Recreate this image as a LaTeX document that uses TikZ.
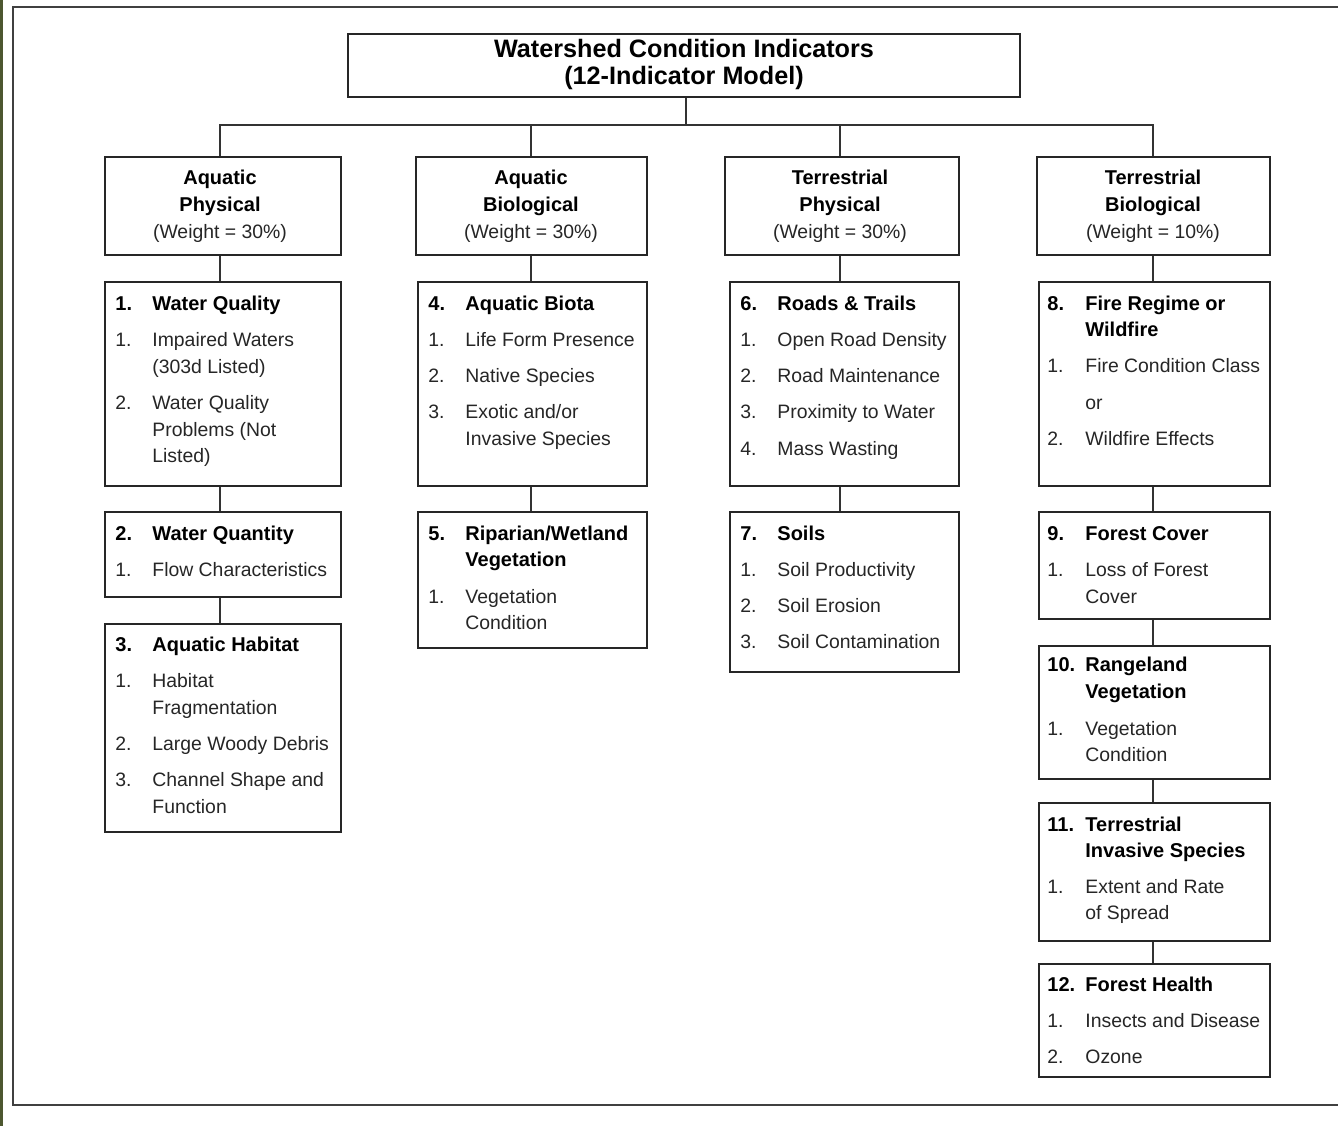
\documentclass[tikz,border=0pt]{standalone}
\usepackage{fontspec}
\setmainfont{Liberation Sans}
\usetikzlibrary{fit}
\definecolor{olivebar}{HTML}{4D5730}
\newcounter{tn}
\tikzset{
  box/.style={draw=black!85, line width=1pt, inner sep=0pt},
  txt/.style={inner sep=0pt, font=\fontsize{9.7}{12}\selectfont, text=black!85},
  hd/.style={inner sep=0pt, font=\fontsize{10}{12}\selectfont\bfseries, text=black},
  ttl/.style={inner sep=0pt, font=\fontsize{12.6}{14}\selectfont\bfseries, text=black},
  conn/.style={draw=black!80, line width=1pt},
}
% line of text: [style]{x}{visual centre y}{text}
\newcommand\Ln[4][txt]{\stepcounter{tn}\node[#1,anchor=base west] (t\arabic{tn}) at (#2,#3+6) {#4};}
\newcommand\Lc[4][txt]{\stepcounter{tn}\node[#1,anchor=base] (t\arabic{tn}) at (#2,#3+6) {#4};}
\begin{document}
\begin{tikzpicture}[x=0.5pt,y=-0.5pt]
\useasboundingbox (0,0) rectangle (1338,1126);
\fill[white] (0,0) rectangle (1338,1126);
\fill[olivebar] (0,0) rectangle (3,1126);
\draw[line width=1.4pt, draw=black!75] (1345,7) -- (13,7) -- (13,1105) -- (1345,1105);

% column axes of the connectors
\coordinate (x1) at (220,0);
\coordinate (x2) at (531,0);
\coordinate (x3) at (840,0);
\coordinate (x4) at (1153,0);

% title
\node[box, fit={(348,34)(1020,97)}] (title) {};
\Lc[ttl]{684}{51}{Watershed Condition Indicators}
\Lc[ttl]{684}{78}{(12-Indicator Model)}

% categories
\node[box, fit={(105,157)(341,255)}] (c1) {};
\node[box, fit={(416,157)(647,255)}] (c2) {};
\node[box, fit={(725,157)(959,255)}] (c3) {};
\node[box, fit={(1037,157)(1270,255)}] (c4) {};
\Lc[hd]{220}{178}{Aquatic}\Lc[hd]{220}{205}{Physical}\Lc{220}{232}{(Weight = 30\%)}
\Lc[hd]{531}{178}{Aquatic}\Lc[hd]{531}{205}{Biological}\Lc{531}{232}{(Weight = 30\%)}
\Lc[hd]{840}{178}{Terrestrial}\Lc[hd]{840}{205}{Physical}\Lc{840}{232}{(Weight = 30\%)}
\Lc[hd]{1153}{178}{Terrestrial}\Lc[hd]{1153}{205}{Biological}\Lc{1153}{232}{(Weight = 10\%)}

\coordinate (bus) at (686,125);
\draw[conn] (title.south -| bus) -- (bus);
\draw[conn] (c1.north -| x1) -- (x1 |- bus) -- (x4 |- bus) -- (c4.north -| x4);
\draw[conn] (c2.north -| x2) -- (x2 |- bus);
\draw[conn] (c3.north -| x3) -- (x3 |- bus);

% column 1
\node[box, fit={(105,282)(341,486)}] (i1) {};
\node[box, fit={(105,512)(341,597)}] (i2) {};
\node[box, fit={(105,624)(341,832)}] (i3) {};
\Ln[hd]{115}{304}{1.}\Ln[hd]{152}{304}{Water Quality}
\Ln{115}{340}{1.}\Ln{152}{340}{Impaired Waters}\Ln{152}{367}{(303d Listed)}
\Ln{115}{403}{2.}\Ln{152}{403}{Water Quality}\Ln{152}{430}{Problems (Not}\Ln{152}{456}{Listed)}
\Ln[hd]{115}{534}{2.}\Ln[hd]{152}{534}{Water Quantity}
\Ln{115}{570}{1.}\Ln{152}{570}{Flow Characteristics}
\Ln[hd]{115}{645}{3.}\Ln[hd]{152}{645}{Aquatic Habitat}
\Ln{115}{681}{1.}\Ln{152}{681}{Habitat}\Ln{152}{708}{Fragmentation}
\Ln{115}{744}{2.}\Ln{152}{744}{Large Woody Debris}
\Ln{115}{780}{3.}\Ln{152}{780}{Channel Shape and}\Ln{152}{807}{Function}
\draw[conn] (c1.south -| x1) -- (i1.north -| x1);
\draw[conn] (i1.south -| x1) -- (i2.north -| x1);
\draw[conn] (i2.south -| x1) -- (i3.north -| x1);

% column 2
\node[box, fit={(418,282)(647,486)}] (i4) {};
\node[box, fit={(418,512)(647,648)}] (i5) {};
\Ln[hd]{428}{304}{4.}\Ln[hd]{465}{304}{Aquatic Biota}
\Ln{428}{340}{1.}\Ln{465}{340}{Life Form Presence}
\Ln{428}{376}{2.}\Ln{465}{376}{Native Species}
\Ln{428}{412}{3.}\Ln{465}{412}{Exotic and/or}\Ln{465}{439}{Invasive Species}
\Ln[hd]{428}{534}{5.}\Ln[hd]{465}{534}{Riparian/Wetland}\Ln[hd]{465}{560}{Vegetation}
\Ln{428}{597}{1.}\Ln{465}{597}{Vegetation}\Ln{465}{623}{Condition}
\draw[conn] (c2.south -| x2) -- (i4.north -| x2);
\draw[conn] (i4.south -| x2) -- (i5.north -| x2);

% column 3
\node[box, fit={(730,282)(959,486)}] (i6) {};
\node[box, fit={(730,512)(959,672)}] (i7) {};
\Ln[hd]{740}{304}{6.}\Ln[hd]{777}{304}{Roads \& Trails}
\Ln{740}{340}{1.}\Ln{777}{340}{Open Road Density}
\Ln{740}{376}{2.}\Ln{777}{376}{Road Maintenance}
\Ln{740}{412}{3.}\Ln{777}{412}{Proximity to Water}
\Ln{740}{449}{4.}\Ln{777}{449}{Mass Wasting}
\Ln[hd]{740}{534}{7.}\Ln[hd]{777}{534}{Soils}
\Ln{740}{570}{1.}\Ln{777}{570}{Soil Productivity}
\Ln{740}{606}{2.}\Ln{777}{606}{Soil Erosion}
\Ln{740}{642}{3.}\Ln{777}{642}{Soil Contamination}
\draw[conn] (c3.south -| x3) -- (i6.north -| x3);
\draw[conn] (i6.south -| x3) -- (i7.north -| x3);

% column 4
\node[box, fit={(1039,282)(1270,486)}] (i8) {};
\node[box, fit={(1039,512)(1270,619)}] (i9) {};
\node[box, fit={(1039,646)(1270,779)}] (i10) {};
\node[box, fit={(1039,803)(1270,941)}] (i11) {};
\node[box, fit={(1039,964)(1270,1077)}] (i12) {};
\Ln[hd]{1047}{304}{8.}\Ln[hd]{1085}{304}{Fire Regime or}\Ln[hd]{1085}{330}{Wildfire}
\Ln{1047}{366}{1.}\Ln{1085}{366}{Fire Condition Class}
\Ln{1085}{403}{or}
\Ln{1047}{439}{2.}\Ln{1085}{439}{Wildfire Effects}
\Ln[hd]{1047}{534}{9.}\Ln[hd]{1085}{534}{Forest Cover}
\Ln{1047}{570}{1.}\Ln{1085}{570}{Loss of Forest}\Ln{1085}{597}{Cover}
\Ln[hd]{1047}{665}{10.}\Ln[hd]{1085}{665}{Rangeland}\Ln[hd]{1085}{692}{Vegetation}
\Ln{1047}{729}{1.}\Ln{1085}{729}{Vegetation}\Ln{1085}{755}{Condition}
\Ln[hd]{1047}{825}{11.}\Ln[hd]{1085}{825}{Terrestrial}\Ln[hd]{1085}{851}{Invasive Species}
\Ln{1047}{887}{1.}\Ln{1085}{887}{Extent and Rate}\Ln{1085}{913}{of Spread}
\Ln[hd]{1047}{985}{12.}\Ln[hd]{1085}{985}{Forest Health}
\Ln{1047}{1021}{1.}\Ln{1085}{1021}{Insects and Disease}
\Ln{1047}{1057}{2.}\Ln{1085}{1057}{Ozone}
\draw[conn] (c4.south -| x4) -- (i8.north -| x4);
\draw[conn] (i8.south -| x4) -- (i9.north -| x4);
\draw[conn] (i9.south -| x4) -- (i10.north -| x4);
\draw[conn] (i10.south -| x4) -- (i11.north -| x4);
\draw[conn] (i11.south -| x4) -- (i12.north -| x4);
\end{tikzpicture}
\end{document}
